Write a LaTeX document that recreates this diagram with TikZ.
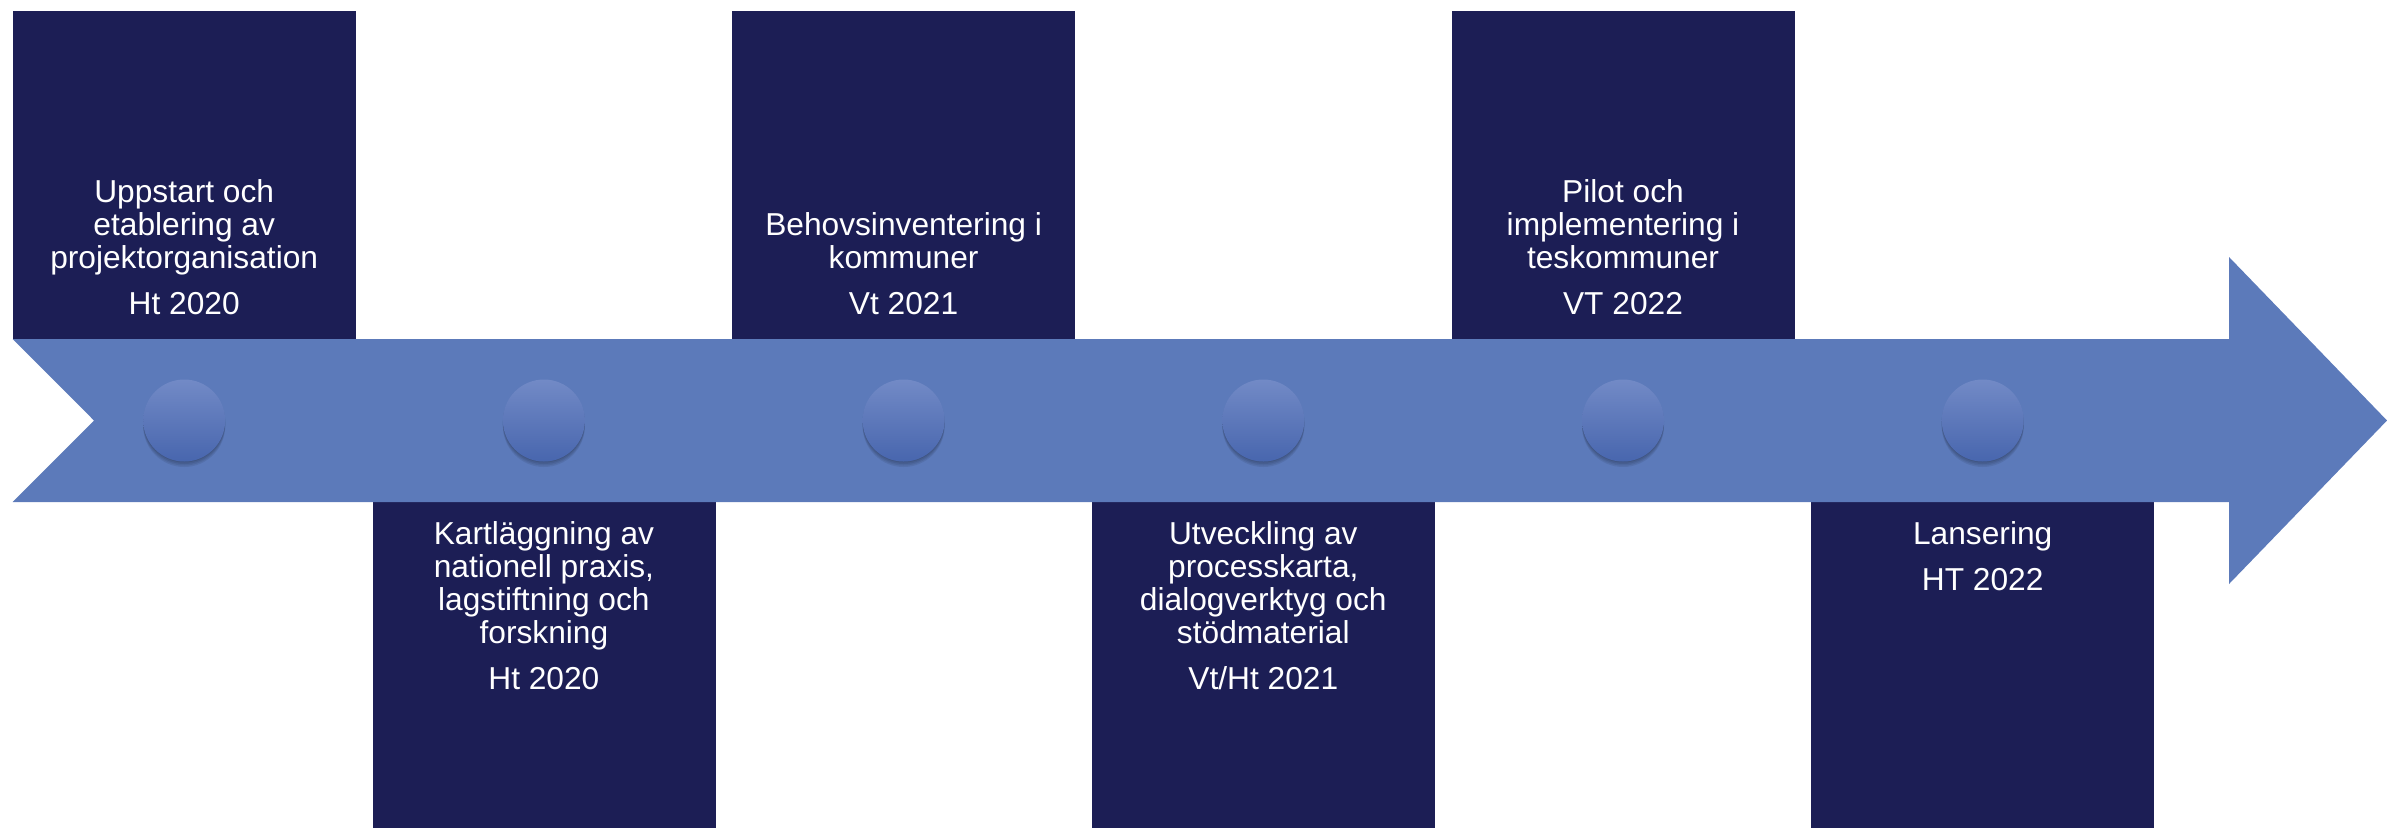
\documentclass[tikz,border=0pt]{standalone}
\usepackage{fontspec}
\setmainfont{Liberation Sans}
\definecolor{boxblue}{RGB}{28,30,85}
\definecolor{bandblue}{RGB}{92,122,186}
\definecolor{dottop}{RGB}{114,138,198}
\definecolor{dotbot}{RGB}{72,102,174}
\begin{document}
\begin{tikzpicture}[x=1pt,y=-1pt,
  stagebox/.style={fill=boxblue, draw=none, inner sep=0pt, minimum width=343pt, anchor=north west},
  topbox/.style={stagebox, minimum height=328pt},
  botbox/.style={stagebox, minimum height=326pt},
  stagetext/.style={text=white, font=\fontsize{31.7}{33}\selectfont, align=center, inner sep=0pt},
  titletext/.style={stagetext, anchor=north},
  datetext/.style={stagetext, anchor=base},
  softshadow/.style={preaction={fill=black, fill opacity=0.08, transform canvas={yshift=-#1pt}}},
  stagedot/.style={circle, minimum size=82pt, inner sep=0pt, draw=none,
    softshadow=1, softshadow=2.5, softshadow=4, softshadow=5.5,
    top color=dottop, bottom color=dotbot}]
\useasboundingbox (0,0) rectangle (2387,828);
% boxes
\node[topbox] (b1) at (12.7,11) {};
\node[botbox] (b2) at (372.4,502) {};
\node[topbox] (b3) at (732.1,11) {};
\node[botbox] (b4) at (1091.8,502) {};
\node[topbox] (b5) at (1451.5,11) {};
\node[botbox] (b6) at (1811.2,502) {};
% band arrow
\path[fill=bandblue] (12.7,339) -- (2229,339) -- (2229,257) -- (2387,420.5)
  -- (2229,584) -- (2229,502) -- (12.7,502) -- (94,420.5) -- cycle;
% dots
\node[stagedot] (c1) at (184.2,420.5) {};
\node[stagedot] (c2) at (543.9,420.5) {};
\node[stagedot] (c3) at (903.6,420.5) {};
\node[stagedot] (c4) at (1263.3,420.5) {};
\node[stagedot] (c5) at (1623.0,420.5) {};
\node[stagedot] (c6) at (1982.7,420.5) {};
% texts
\node[titletext] (t1) at (184.2,179.3) {Uppstart och\\etablering av\\projektorganisation};
\node[datetext] (d1) at (184.2,314) {Ht 2020};
\node[titletext] (t2) at (543.9,521.3) {Kartläggning av\\nationell praxis,\\lagstiftning och\\forskning};
\node[datetext] (d2) at (543.9,689) {Ht 2020};
\node[titletext] (t3) at (903.6,212.3) {Behovsinventering i\\kommuner};
\node[datetext] (d3) at (903.6,314) {Vt 2021};
\node[titletext] (t4) at (1263.3,521.3) {Utveckling av\\processkarta,\\dialogverktyg och\\stödmaterial};
\node[datetext] (d4) at (1263.3,689) {Vt/Ht 2021};
\node[titletext] (t5) at (1623.0,179.3) {Pilot och\\implementering i\\teskommuner};
\node[datetext] (d5) at (1623.0,314) {VT 2022};
\node[titletext] (t6) at (1982.7,521.3) {Lansering};
\node[datetext] (d6) at (1982.7,590) {HT 2022};
\end{tikzpicture}
\end{document}
